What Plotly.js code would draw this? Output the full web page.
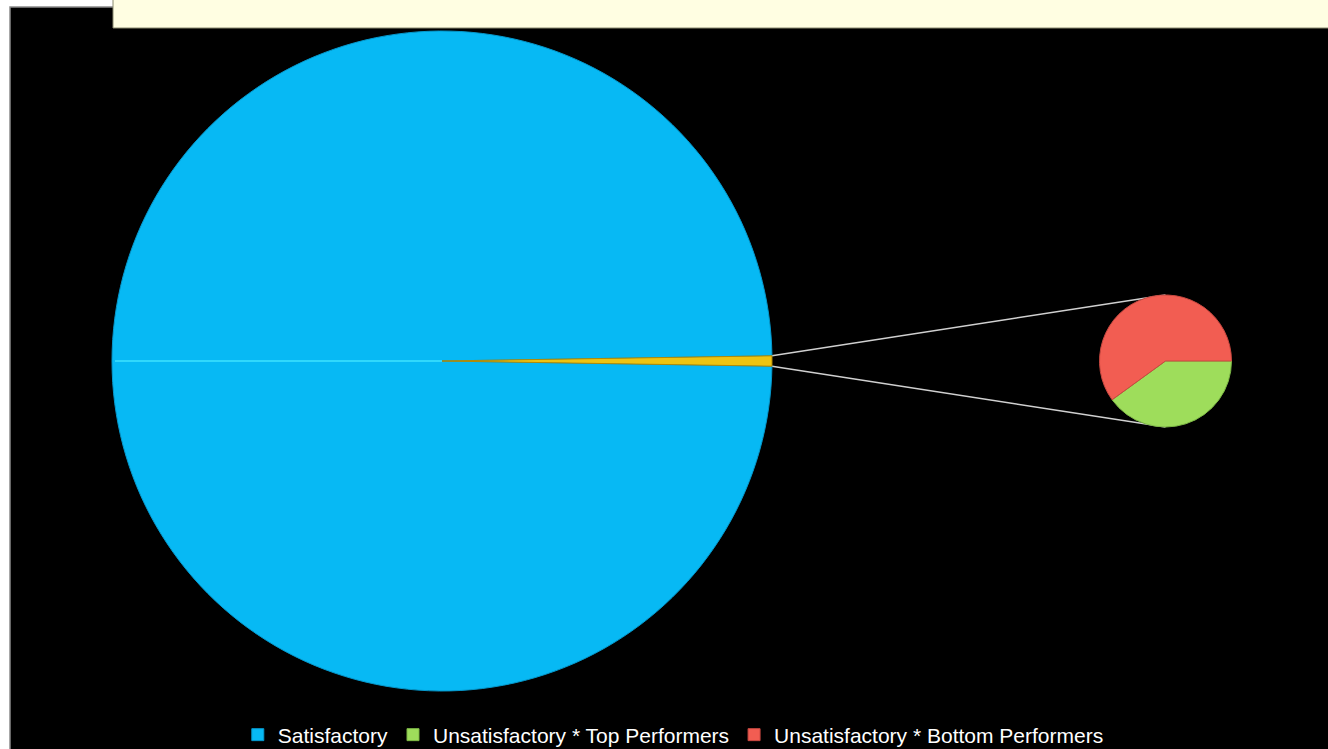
<!DOCTYPE html>
<html>
<head>
<meta charset="utf-8">
<script src="https://cdn.plot.ly/plotly-3.0.1.min.js"></script>
<style>html,body{margin:0;padding:0;background:#fff;overflow:hidden;}#chart{width:1328px;height:749px;}</style>
</head>
<body>
<div id="chart"></div>
<script>
// Data (percent of total)
const legendLabels = ["Satisfactory", "Unsatisfactory * Top Performers", "Unsatisfactory * Bottom Performers"];
const satisfactory = 99.5;
const topPerformers = 0.2;
const bottomPerformers = 0.3;
const otherLabel = "Other";

const colors = {
  sat: "#07B9F4",
  other: "#EEC411",
  top: "#9EDD5B",
  bottom: "#F25D52"
};
const edgeColors = {
  sat: "#0598CC",
  other: "#B08A08",
  top: "#7DB845",
  bottom: "#C84840"
};

const W = 1328, H = 749;
const fx = x => x / W;
const fy = y => 1 - y / H;

// Layout geometry (pixels)
const main = {cx: 442, cy: 361, r: 330};
const sec = {cx: 1165.5, cy: 361, r: 66};

const otherValue = topPerformers + bottomPerformers;
const otherFrac = otherValue / (satisfactory + otherValue);
const halfAng = otherFrac * 180; // degrees

const mainTrace = {
  type: "pie",
  labels: [legendLabels[0], otherLabel],
  values: [satisfactory, otherValue],
  marker: {colors: [colors.sat, colors.other], line: {width: 1, color: [edgeColors.sat, edgeColors.other]}},
  sort: false,
  direction: "clockwise",
  rotation: 90 + halfAng,
  textinfo: "none",
  hoverinfo: "label+percent",
  showlegend: false,
  domain: {x: [fx(main.cx - main.r), fx(main.cx + main.r)], y: [fy(main.cy + main.r), fy(main.cy - main.r)]}
};

const secTrace = {
  type: "pie",
  labels: legendLabels,
  values: [0, topPerformers, bottomPerformers],
  marker: {colors: [colors.sat, colors.top, colors.bottom], line: {width: 1, color: [edgeColors.sat, edgeColors.top, edgeColors.bottom]}},
  sort: false,
  direction: "clockwise",
  rotation: 90,
  textinfo: "none",
  hoverinfo: "label+percent",
  showlegend: true,
  domain: {x: [fx(sec.cx - sec.r), fx(sec.cx + sec.r)], y: [fy(sec.cy + sec.r), fy(sec.cy - sec.r)]}
};

// connector lines from rim of "Other" slice to top/bottom of secondary pie
const rad = halfAng * Math.PI / 180;
const p1 = {x: main.cx + main.r * Math.cos(rad), y: main.cy - main.r * Math.sin(rad)};
const p2 = {x: main.cx + main.r * Math.cos(rad), y: main.cy + main.r * Math.sin(rad)};

const shapes = [
  // black chart area
  {type: "rect", xref: "paper", yref: "paper", layer: "below", x0: fx(10), x1: fx(W + 2), y0: fy(H + 2), y1: fy(7),
   fillcolor: "#000", line: {color: "#8a8a8a", width: 1.5}},
  // pale band at top
  {type: "rect", xref: "paper", yref: "paper", layer: "below", x0: fx(113), x1: fx(W + 2), y0: fy(28), y1: fy(-2),
   fillcolor: "#FFFEE2", line: {color: "#8a8a70", width: 1}},
  {type: "line", xref: "paper", yref: "paper", layer: "below", x0: fx(p1.x), y0: fy(p1.y), x1: fx(sec.cx), y1: fy(sec.cy - sec.r),
   line: {color: "#d0d0d0", width: 1.5}},
  {type: "line", xref: "paper", yref: "paper", layer: "below", x0: fx(p2.x), y0: fy(p2.y), x1: fx(sec.cx), y1: fy(sec.cy + sec.r),
   line: {color: "#d0d0d0", width: 1.5}},
  // subtle seam line on the main pie
  {type: "line", xref: "paper", yref: "paper", layer: "above", x0: fx(main.cx - main.r + 3), y0: fy(main.cy), x1: fx(main.cx), y1: fy(main.cy),
   line: {color: "#3FE3FF", width: 1.5}}
];

const layout = {
  width: W, height: H,
  margin: {l: 0, r: 0, t: 0, b: 0, autoexpand: false},
  paper_bgcolor: "#ffffff",
  showlegend: true,
  legend: {
    orientation: "h", x: 0.507, xanchor: "center", y: fy(735), yanchor: "middle",
    font: {family: "Liberation Sans, Arial, sans-serif", size: 21, color: "#ffffff"},
    bgcolor: "rgba(0,0,0,0)", traceorder: "normal"
  },
  shapes: shapes
};

Plotly.newPlot("chart", [mainTrace, secTrace], layout, {displayModeBar: false, staticPlot: true});
</script>
</body>
</html>
